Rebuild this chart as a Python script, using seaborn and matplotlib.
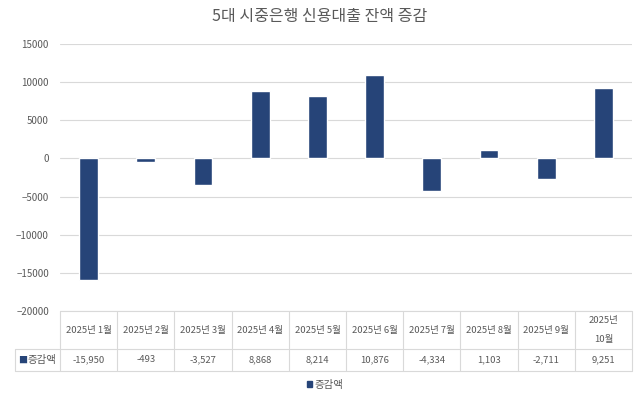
import matplotlib
matplotlib.use('Agg')
import matplotlib.pyplot as plt
import matplotlib.transforms as mtransforms
from matplotlib.lines import Line2D
import seaborn as sns
import pandas as pd

# data
months = ['2025년 1월', '2025년 2월', '2025년 3월', '2025년 4월', '2025년 5월',
          '2025년 6월', '2025년 7월', '2025년 8월', '2025년 9월', '2025년\n10월']
values = [-15950, -493, -3527, 8868, 8214, 10876, -4334, 1103, -2711, 9251]
series_name = '증감액'

df = pd.DataFrame({'month': months, 'value': values})

sns.set_style('white')
plt.rcParams['font.family'] = ['Noto Sans CJK KR', 'DejaVu Sans']

bar_color = '#264478'
text_color = '#595959'
grid_color = '#d9d9d9'

W, H = 640, 397
fig = plt.figure(figsize=(6.4, 3.97), dpi=100)
ax = fig.add_axes([60 / W, 1 - 311 / H, 572 / W, 267 / H])

sns.barplot(data=df, x='month', y='value', color=bar_color, width=0.33,
            saturation=1, ax=ax, zorder=3)

ax.set_ylim(-20000, 15000)
ax.set_yticks(range(-20000, 15001, 5000))
ax.set_xlim(-0.5, len(months) - 0.5)
ax.yaxis.grid(True, color=grid_color, linewidth=0.8, zorder=0)
ax.tick_params(axis='y', length=0, labelsize=7, labelcolor=text_color, pad=8)
ax.set_xticks([])
ax.set_xlabel('')
ax.set_ylabel('')
for s in ax.spines.values():
    s.set_visible(False)

fig.text(0.5, 1 - 17 / H, '5대 시중은행 신용대출 잔액 증감', ha='center', va='center',
         fontsize=11.5, color=text_color)

# data table under the plot
tr = mtransforms.blended_transform_factory(ax.transData, ax.transAxes)
h_top = 0.0
h_mid = -38 / 267
h_bot = -60 / 267
n = len(months)
left_x = -0.5 - 45 / 57.2
lc = dict(color=grid_color, linewidth=0.8, transform=tr, clip_on=False)

ax.add_line(Line2D([-0.5, n - 0.5], [h_top, h_top], **lc))
ax.add_line(Line2D([left_x, n - 0.5], [h_mid, h_mid], **lc))
ax.add_line(Line2D([left_x, n - 0.5], [h_bot, h_bot], **lc))
ax.add_line(Line2D([left_x, left_x], [h_mid, h_bot], **lc))
for i in range(n + 1):
    ax.add_line(Line2D([i - 0.5, i - 0.5], [h_top, h_bot], **lc))

for i, (m, v) in enumerate(zip(months, values)):
    ax.text(i, (h_top + h_mid) / 2, m, transform=tr, ha='center', va='center',
            fontsize=6.8, color=text_color, linespacing=2.3, clip_on=False)
    ax.text(i, (h_mid + h_bot) / 2, f'{v:,}', transform=tr, ha='center', va='center',
            fontsize=6.8, color=text_color, clip_on=False)

ax.text(left_x + 0.05, (h_mid + h_bot) / 2, '■', transform=tr, ha='left', va='center',
        fontsize=6.5, color=bar_color, clip_on=False)
ax.text(left_x + 0.22, (h_mid + h_bot) / 2, series_name, transform=tr, ha='left',
        va='center', fontsize=7.5, color=text_color, clip_on=False)

# legend
handle = plt.Rectangle((0, 0), 1, 1, color=bar_color)
leg = fig.legend([handle], [series_name], loc='center', bbox_to_anchor=(0.508, 1 - 385 / H),
                 frameon=False, fontsize=7.5, handlelength=0.5, handleheight=0.5,
                 handletextpad=0.3)
for t in leg.get_texts():
    t.set_color(text_color)

fig.savefig('out.png', dpi=100)
